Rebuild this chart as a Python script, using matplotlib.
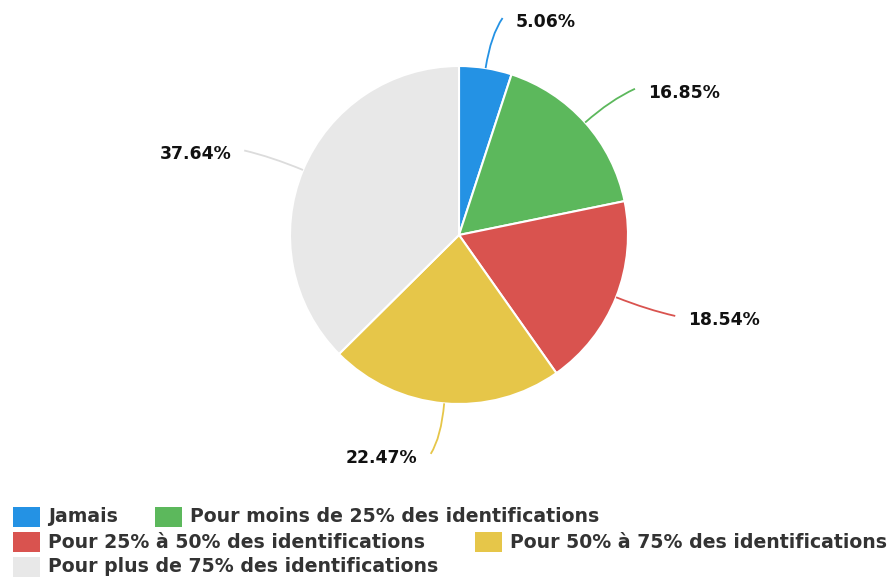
import matplotlib.pyplot as plt
import numpy as np
from matplotlib.path import Path
from matplotlib.patches import PathPatch, Rectangle

W, H = 894, 581

labels = [
    "Jamais",
    "Pour moins de 25% des identifications",
    "Pour 25% à 50% des identifications",
    "Pour 50% à 75% des identifications",
    "Pour plus de 75% des identifications",
]
values = [5.06, 16.85, 18.54, 22.47, 37.64]
colors = ["#2492e4", "#5cb85c", "#d9534f", "#e6c649", "#e8e8e8"]
line_colors = ["#2492e4", "#5cb85c", "#d9534f", "#e6c649", "#dcdcdc"]

fig = plt.figure(figsize=(W / 100, H / 100), dpi=100)
ax = fig.add_axes([0, 0, 1, 1])

cx, cy, r = 459, H - 235, 169
ax.pie(values, colors=colors, startangle=90, counterclock=False,
       center=(cx, cy), radius=r, frame=True,
       wedgeprops=dict(edgecolor="white", linewidth=1.5))
ax.set_xlim(0, W)
ax.set_ylim(0, H)
ax.set_aspect("equal")
ax.axis("off")

# leader lines + percentage labels
total = sum(values)
cum = 0
for v, lc in zip(values, line_colors):
    mid = np.deg2rad((cum + v / 2) / total * 360)
    cum += v
    dx, dy = np.sin(mid), np.cos(mid)
    side = 1 if dx >= 0 else -1
    p0 = (cx + r * dx, cy + r * dy)
    p1 = (cx + 1.2 * r * dx, cy + 1.2 * r * dy)
    off = 12 if abs(dx) > 0.2 else 9
    p2 = (cx + 1.3 * r * dx + side * off, cy + 1.3 * r * dy)
    path = Path([p0, p1, p2], [Path.MOVETO, Path.CURVE3, Path.CURVE3])
    ax.add_patch(PathPatch(path, fc="none", ec=lc, lw=1.3))
    ax.text(p2[0] + side * 13, p2[1] - 4, f"{v:.2f}%",
            ha="left" if side > 0 else "right", va="center",
            fontsize=12.4, fontweight="bold", color="#111111")

# legend laid out in rows
legend_pos = [(13, 517), (155, 517), (13, 542), (475, 542), (13, 567)]
for (x, y), lab, c in zip(legend_pos, labels, colors):
    ax.add_patch(Rectangle((x, H - y - 10), 27, 20, fc=c, ec="none"))
    ax.text(x + 35, H - y, lab, ha="left", va="center",
            fontsize=13.6, fontweight="bold", color="#333333")

fig.savefig("out.png", dpi=100)
